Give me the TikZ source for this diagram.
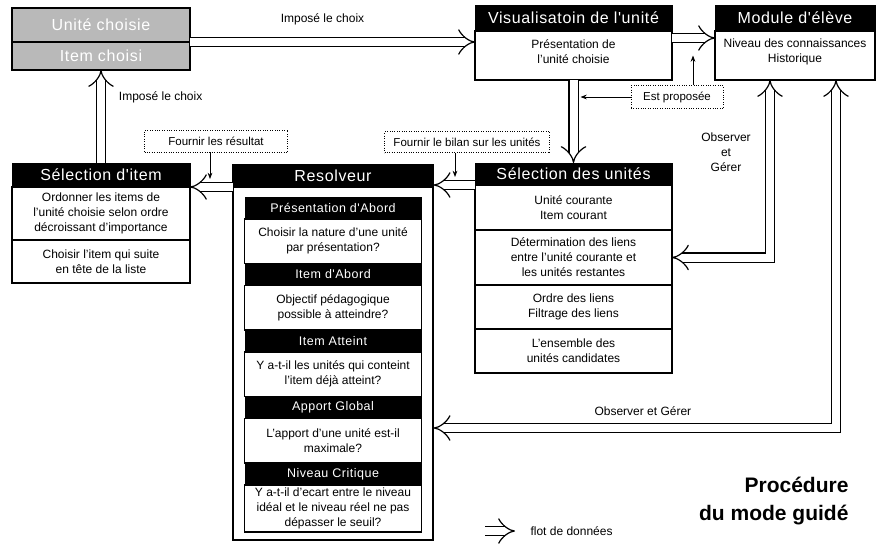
\documentclass[tikz,border=0pt]{standalone}
\usepackage{fontspec}
\setmainfont{Liberation Sans}
\newfontfamily\entetefont[LetterSpace=4]{Liberation Sans}
\usepackage{tikz}
\usetikzlibrary{arrows.meta, positioning, fit}
\tikzset{
  entete/.style={rectangle, draw=black, fill=black, text=white, anchor=north west,
    font=\entetefont\fontsize{16}{18}\selectfont, minimum height=26pt,
    inner sep=0pt, outer sep=0pt},
  choisi/.style={rectangle, draw=black, line width=1.2pt, fill=gray!55, text=white,
    font=\entetefont\fontsize{16}{18}\selectfont, minimum width=178pt,
    inner sep=0pt, outer sep=0pt},
  case/.style={rectangle, draw=black, line width=1.2pt, fill=white, align=center,
    font=\fontsize{12}{15}\selectfont, inner sep=1pt, outer sep=0pt},
  soustitre/.style={rectangle, fill=black, text=white, minimum width=177pt,
    minimum height=22pt, font=\entetefont\fontsize{12.5}{14}\selectfont,
    inner sep=0pt, outer sep=0pt},
  question/.style={case, minimum width=177pt, minimum height=44.5pt},
  cadre/.style={rectangle, draw=black, line width=1.2pt, inner sep=0pt},
  remarque/.style={rectangle, draw=black, dotted, font=\fontsize{11.5}{13}\selectfont,
    inner sep=0pt},
  flux/.style={double, double distance=8pt, line width=1.2pt, line join=miter,
    -{Implies[scale=1.3]}},
  fluxdouble/.style={flux, {Implies[scale=1.3]}-{Implies[scale=1.3]}},
  fleche/.style={-{Stealth[length=2.2mm]}, thick},
  etiquette/.style={font=\fontsize{12}{15}\selectfont, align=center},
  titre/.style={font=\fontsize{21}{28}\selectfont\bfseries, align=right}
}
\begin{document}
\begin{tikzpicture}[x=1pt, y=-1pt]
  \useasboundingbox (0,0) rectangle (881,552);

  % choix impose
  \node[choisi, minimum height=34pt, anchor=north west] (unite) at (12,8) {Unité choisie};
  \node[choisi, minimum height=28pt, below=0pt of unite] (item) {Item choisi};

  % visualisation et module
  \node[entete, minimum width=197pt] (vue) at (475,5) {Visualisatoin de l'unité};
  \node[case, minimum width=197pt, minimum height=49pt, below=0pt of vue] (vuecorps)
    {Présentation de\\l'unité choisie\\[-7pt]};
  \node[entete, minimum width=160pt] (module) at (715,5) {Module d'élève};
  \node[case, minimum width=160pt, minimum height=49pt, below=0pt of module] (modcorps)
    {Niveau des connaissances\\Historique\\[-5pt]};

  % selection des unites
  \node[entete, minimum width=197pt, minimum height=22pt] (selunites) at (475,163) {Sélection des unités};
  \node[case, minimum width=197pt, minimum height=45pt, below=0pt of selunites] (courant)
    {Unité courante\\Item courant};
  \node[case, minimum width=197pt, minimum height=55pt, below=0pt of courant] (liens)
    {Détermination des liens\\entre l'unité courante et\\les unités restantes};
  \node[case, minimum width=197pt, minimum height=44pt, below=0pt of liens] (ordre)
    {Ordre des liens\\Filtrage des liens};
  \node[case, minimum width=197pt, minimum height=44pt, below=0pt of ordre] (candidates)
    {L'ensemble des\\unités candidates};

  % selection d'item
  \node[entete, minimum width=178pt, minimum height=24pt] (selitem) at (12,163) {Sélection d'item};
  \node[case, minimum width=178pt, minimum height=53pt, below=0pt of selitem] (ordonner)
    {Ordonner les items de\\l'unité choisie selon ordre\\décroissant d'importance};
  \node[case, minimum width=178pt, minimum height=43pt, below=0pt of ordonner] (choisir)
    {Choisir l'item qui suite\\en tête de la liste};

  % resolveur
  \node[entete, minimum width=200pt, minimum height=22pt] (resolveur) at (233,165) {Resolveur};
  \node[soustitre, below=10pt of resolveur] (presentation) {Présentation d'Abord};
  \node[question, below=0pt of presentation] (nature) {Choisir la nature d'une unité\\par présentation?};
  \node[soustitre, below=0pt of nature] (abord) {Item d'Abord};
  \node[question, below=0pt of abord] (objectif) {Objectif pédagogique\\possible à atteindre?};
  \node[soustitre, below=0pt of objectif] (atteint) {Item Atteint};
  \node[question, below=0pt of atteint] (deja) {Y a-t-il les unités qui conteint\\l'item déjà atteint?};
  \node[soustitre, below=0pt of deja] (apport) {Apport Global};
  \node[question, below=0pt of apport] (maximale) {L'apport d'une unité est-il\\maximale?};
  \node[soustitre, below=0pt of maximale] (critique) {Niveau Critique};
  \node[question, minimum height=47pt, below=0pt of critique] (seuil)
    {Y a-t-il d'ecart entre le niveau\\idéal et le niveau réel ne pas\\dépasser le seuil?};
  \coordinate[below=8pt of seuil] (finres);
  \node[cadre, fit=(resolveur)(finres)] (cadreres) {};

  % remarques
  \node[remarque, minimum width=143pt, minimum height=22pt] (resultat) at (216,141) {Fournir les résultat};
  \node[remarque, minimum width=165pt, minimum height=21pt] (bilan) at (467,142) {Fournir le bilan sur les unités};
  \node[remarque, minimum width=92pt, minimum height=23pt] (propose) at (677,97) {Est proposée};
  \node[etiquette] (observer) at (726,152) {Observer\\et\\Gérer};

  % flots
  \draw[flux] (item.north east) -- (item.north east -| vuecorps.west)
    node[etiquette, midway, above=13pt, xshift=-10pt] {Imposé le choix};
  \draw[flux] ([yshift=-7pt]vuecorps.north east) -- ([yshift=-7pt]vuecorps.north east -| modcorps.west);
  \draw[flux] (vuecorps.south) -- (selunites.north);
  \draw[flux] (selunites.south west) -- (selunites.south west -| cadreres.east);
  \draw[flux] (resolveur.south west) -- (resolveur.south west -| selitem.east);
  \draw[flux] (selitem.north) -- (item.south)
    node[etiquette, pos=0.71, right=14pt] {Imposé le choix};
  \draw[fluxdouble] ([xshift=-25pt]modcorps.south) |- (liens.east);
  \draw[fluxdouble] ([xshift=41pt]modcorps.south) |- ([yshift=-75.5pt]cadreres.east)
    node[etiquette, pos=0.74, above=8pt] {Observer et Gérer};

  \draw[fleche, shorten >=8pt] ([xshift=-6pt]resultat.south) -- ([xshift=-6pt]resultat.south |- resolveur.south);
  \draw[fleche, shorten >=8pt] ([xshift=-12pt]bilan.south) -- ([xshift=-12pt]bilan.south |- selunites.south);
  \draw[fleche] ([xshift=16pt]propose.north) -- ([xshift=16pt]propose.north |- vuecorps.center);
  \draw[fleche, shorten >=7pt] (propose.west) -- (propose.west -| vuecorps.south);

  % legende
  \node[etiquette, anchor=west] (legende) at (527,531) {flot de données};
  \draw[flux] ([xshift=-42pt]legende.west) -- ([xshift=-12pt]legende.west);
  \node[titre, anchor=north east] (titre) at (852,474) {Procédure\\du mode guidé};
\end{tikzpicture}
\end{document}
